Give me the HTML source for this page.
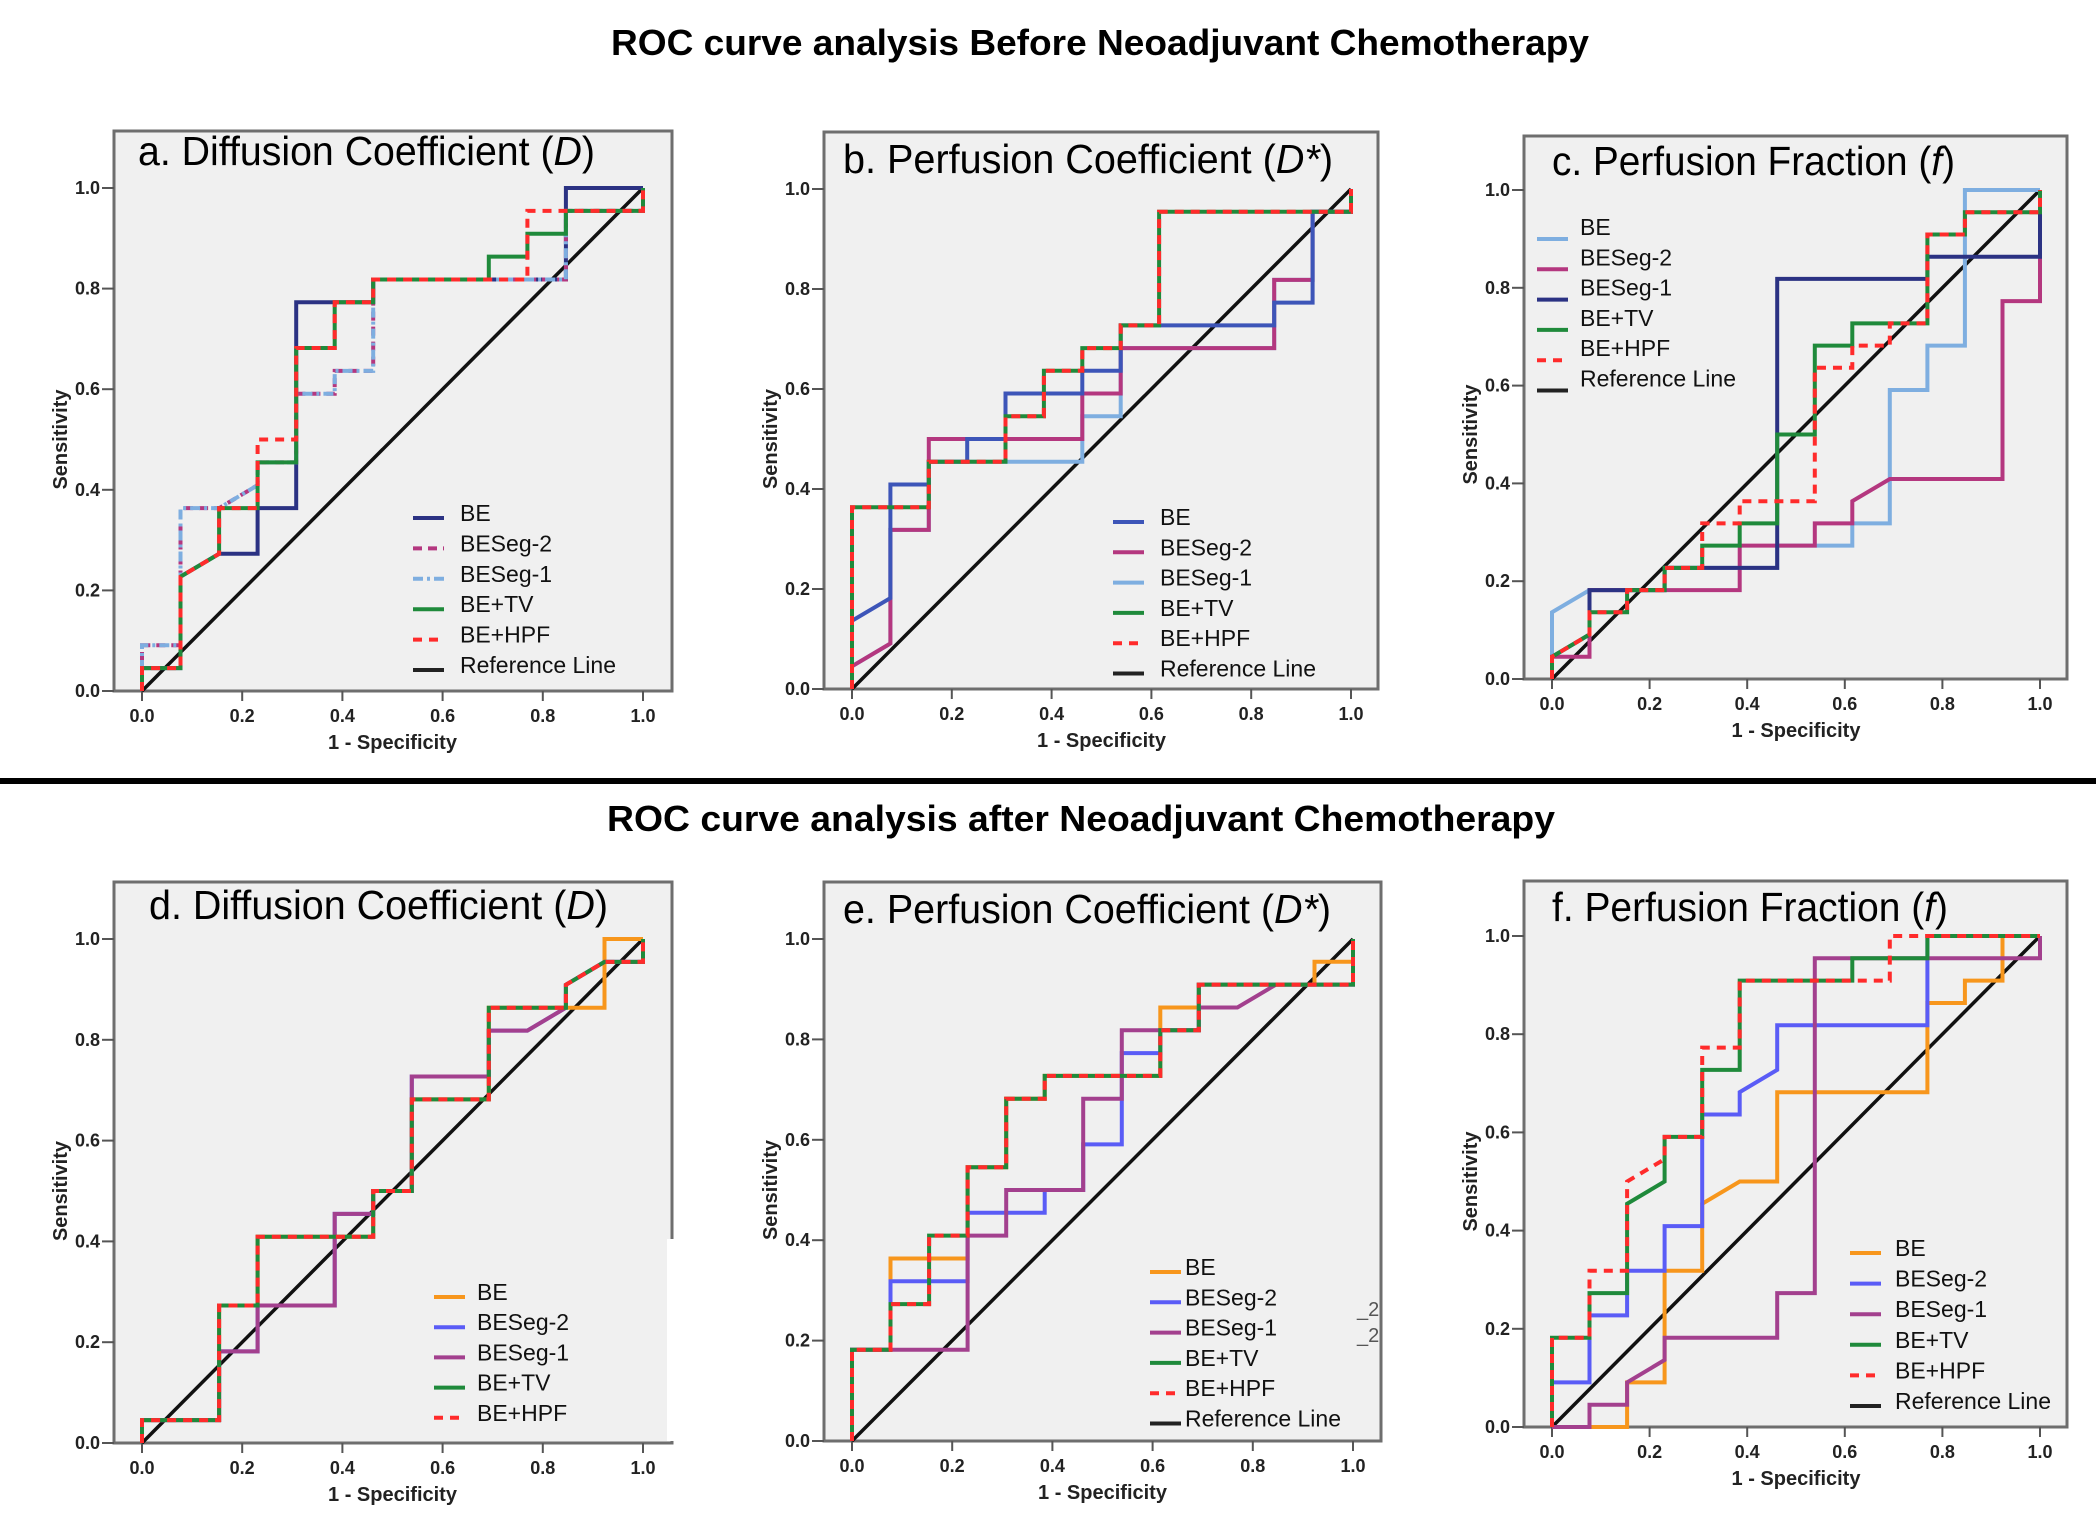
<!DOCTYPE html>
<html><head><meta charset="utf-8"><style>
html,body{margin:0;padding:0;background:#fff;}
svg{display:block;}
text{font-family:"Liberation Sans",sans-serif;}
</style></head><body>
<svg id="fig" width="2100" height="1536" viewBox="0 0 2100 1536" xmlns="http://www.w3.org/2000/svg">
<text x="611" y="55" font-size="36" font-weight="bold" textLength="978" lengthAdjust="spacingAndGlyphs">ROC curve analysis Before Neoadjuvant Chemotherapy</text>
<rect x="0" y="778" width="2096" height="6" fill="#000"/>
<text x="607" y="831" font-size="36" font-weight="bold" textLength="948" lengthAdjust="spacingAndGlyphs">ROC curve analysis after Neoadjuvant Chemotherapy</text>
</svg>
<script>
// counts: x in units of 1/13 (negatives), y in units of 1/22 (positives)
const N_NEG = 13, N_POS = 22;
const xTicks = [0, 0.2, 0.4, 0.6, 0.8, 1.0];
const yTicks = [0, 0.2, 0.4, 0.6, 0.8, 1.0];
const tickLabels = ["0.0","0.2","0.4","0.6","0.8","1.0"];

const a_BE    = [[0,0],[0,1],[1,1],[1,5],[2,6],[3,6],[3,8],[4,8],[4,17],[6,17],[6,18],[11,18],[11,22],[13,22]];
const a_Seg2  = [[0,0],[0,2],[1,2],[1,8],[2,8],[3,9],[3,10],[4,10],[4,13],[5,13],[5,14],[6,14],[6,18],[11,18],[11,21],[13,21],[13,22]];
const a_Seg1  = [[0,0],[0,2],[1,2],[1,8],[2,8],[3,9],[3,10],[4,10],[4,13],[5,13],[5,14],[6,14],[6,18],[11,18],[11,21],[13,21],[13,22]];
const a_TV    = [[0,0],[0,1],[1,1],[1,5],[2,6],[2,8],[3,8],[3,10],[4,10],[4,15],[5,15],[5,17],[6,17],[6,18],[9,18],[9,19],[10,19],[10,20],[11,20],[11,21],[13,21],[13,22]];
const a_HPF   = [[0,0],[0,1],[1,1],[1,5],[2,6],[2,8],[3,8],[3,11],[4,11],[4,15],[5,15],[5,17],[6,17],[6,18],[10,18],[10,21],[13,21],[13,22]];

const b_BE    = [[0,0],[0,3],[1,4],[1,9],[2,9],[2,10],[3,10],[3,11],[4,11],[4,13],[6,13],[6,14],[7,14],[7,16],[11,16],[11,17],[12,17],[12,21],[13,21],[13,22]];
const b_Seg2  = [[0,0],[0,1],[1,2],[1,7],[2,7],[2,11],[6,11],[6,13],[7,13],[7,15],[11,15],[11,18],[12,18],[12,21],[13,21],[13,22]];
const b_Seg1  = [[0,0],[0,1],[1,2],[1,7],[2,7],[2,10],[6,10],[6,12],[7,12],[7,15],[11,15],[11,18],[12,18],[12,21],[13,21],[13,22]];
const b_TV    = [[0,0],[0,8],[2,8],[2,10],[4,10],[4,12],[5,12],[5,14],[6,14],[6,15],[7,15],[7,16],[8,16],[8,21],[13,21],[13,22]];
const b_HPF   = [[0,0],[0,8],[2,8],[2,10],[4,10],[4,12],[5,12],[5,14],[6,14],[6,15],[7,15],[7,16],[8,16],[8,21],[13,21],[13,22]];

const c_BE    = [[0,0],[0,3],[1,4],[3,4],[3,5],[6,5],[6,6],[8,6],[8,7],[9,7],[9,13],[10,13],[10,15],[11,15],[11,22],[13,22]];
const c_Seg2  = [[0,0],[0,1],[1,1],[1,4],[5,4],[5,6],[7,6],[7,7],[8,7],[8,8],[9,9],[12,9],[12,17],[13,17],[13,22]];
const c_Seg1  = [[0,0],[0,1],[1,2],[1,4],[3,4],[3,5],[6,5],[6,18],[10,18],[10,19],[13,19],[13,22]];
const c_TV    = [[0,0],[0,1],[1,2],[1,3],[2,3],[2,4],[3,4],[3,5],[4,5],[4,6],[5,6],[5,7],[6,7],[6,11],[7,11],[7,15],[8,15],[8,16],[10,16],[10,20],[11,20],[11,21],[13,21],[13,22]];
const c_HPF   = [[0,0],[0,1],[1,2],[1,3],[2,3],[2,4],[3,4],[3,5],[4,5],[4,7],[5,7],[5,8],[7,8],[7,14],[8,14],[8,15],[9,15],[9,16],[10,16],[10,20],[11,20],[11,21],[13,21],[13,22]];

const d_BE    = [[0,0],[0,1],[2,1],[2,6],[3,6],[3,9],[6,9],[6,11],[7,11],[7,15],[9,15],[9,19],[10,19],[11,19],[12,19],[12,22],[13,22]];
const d_Seg2  = [[0,0],[0,1],[2,1],[2,4],[3,4],[3,6],[5,6],[5,10],[6,10],[6,11],[7,11],[7,16],[9,16],[9,18],[10,18],[11,19],[11,20],[12,21],[13,21],[13,22]];
const d_Seg1  = [[0,0],[0,1],[2,1],[2,4],[3,4],[3,6],[5,6],[5,10],[6,10],[6,11],[7,11],[7,16],[9,16],[9,18],[10,18],[11,19],[11,20],[12,21],[13,21],[13,22]];
const d_TV    = [[0,0],[0,1],[2,1],[2,6],[3,6],[3,9],[6,9],[6,11],[7,11],[7,15],[9,15],[9,19],[11,19],[11,20],[12,21],[13,21],[13,22]];
const d_HPF   = [[0,0],[0,1],[2,1],[2,6],[3,6],[3,9],[6,9],[6,11],[7,11],[7,15],[9,15],[9,19],[11,19],[11,20],[12,21],[13,21],[13,22]];

const e_BE    = [[0,0],[0,4],[1,4],[1,8],[3,8],[3,12],[4,12],[4,15],[5,15],[5,16],[8,16],[8,19],[9,19],[9,20],[12,20],[12,21],[13,21],[13,22]];
const e_Seg2  = [[0,0],[0,4],[1,4],[1,7],[3,7],[3,10],[5,10],[5,11],[6,11],[6,13],[7,13],[7,17],[8,17],[8,18],[9,18],[9,20],[13,20],[13,22]];
const e_Seg1  = [[0,0],[0,4],[3,4],[3,9],[4,9],[4,11],[6,11],[6,15],[7,15],[7,18],[9,18],[9,19],[10,19],[11,20],[13,20],[13,22]];
const e_TV    = [[0,0],[0,4],[1,4],[1,6],[2,6],[2,9],[3,9],[3,12],[4,12],[4,15],[5,15],[5,16],[8,16],[8,18],[9,18],[9,20],[13,20],[13,22]];
const e_HPF   = [[0,0],[0,4],[1,4],[1,6],[2,6],[2,9],[3,9],[3,12],[4,12],[4,15],[5,15],[5,16],[8,16],[8,18],[9,18],[9,20],[13,20],[13,22]];

const f_BE    = [[0,0],[2,0],[2,2],[3,2],[3,7],[4,7],[4,10],[5,11],[6,11],[6,15],[10,15],[10,19],[11,19],[11,20],[12,20],[12,22],[13,22]];
const f_Seg2  = [[0,0],[0,2],[1,2],[1,5],[2,5],[2,7],[3,7],[3,9],[4,9],[4,14],[5,14],[5,15],[6,16],[6,18],[10,18],[10,22],[13,22]];
const f_Seg1  = [[0,0],[1,0],[1,1],[2,1],[2,2],[3,3],[3,4],[6,4],[6,6],[7,6],[7,21],[13,21],[13,22]];
const f_TV    = [[0,0],[0,4],[1,4],[1,6],[2,6],[2,10],[3,11],[3,13],[4,13],[4,16],[5,16],[5,20],[8,20],[8,21],[10,21],[10,22],[13,22]];
const f_HPF   = [[0,0],[0,4],[1,4],[1,7],[2,7],[2,11],[3,12],[3,13],[4,13],[4,17],[5,17],[5,20],[9,20],[9,22],[13,22]];

const legendNames = ["BE","BESeg-2","BESeg-1","BE+TV","BE+HPF","Reference Line"];

const NS = "http://www.w3.org/2000/svg";
const svg = document.getElementById("fig");
function mk(tag, attrs, parent){
  const el = document.createElementNS(NS, tag);
  for (const k in attrs) el.setAttribute(k, attrs[k]);
  (parent||svg).appendChild(el);
  return el;
}

const navy="#2b3283", mag="#b4377f", lblue="#7eaee0", green="#1f8a3b", red="#ff2b2b", blue2="#3d55b8";
const orange="#f7961c", vblue="#5a5cf6", purp="#a3408e";

const panels = [
 {id:"a", title:"a. Diffusion Coefficient (", it:"D", box:[114,131,672,691], px:[142,643], py:[691,188],
  series:[[a_BE,navy,""],[a_Seg2,mag,"9 6"],[a_Seg1,lblue,"10 4 3 4"],[a_TV,green,""],[a_HPF,red,"9 7"]],
  colors:[navy,mag,lblue,green,red,"#222"], dashes:["","9 6","10 4 3 4","","9 7",""], leg:{lx:413,tx:460,y0:513,dy:30.4,n:6}, tx:138, tw:457, ty:165},
 {id:"b", title:"b. Perfusion Coefficient (", it:"D*", box:[824,132,1378,689], px:[852,1351], py:[689,189],
  series:[[b_Seg1,lblue,""],[b_Seg2,mag,""],[b_BE,blue2,""],[b_TV,green,""],[b_HPF,red,"9 7"]],
  colors:[blue2,mag,lblue,green,red,"#222"], dashes:["","","","","9 7",""], leg:{lx:1113,tx:1160,y0:517,dy:30.3,n:6}, tx:843, tw:490, ty:173},
 {id:"c", title:"c. Perfusion Fraction (", it:"f", box:[1524,136,2067,679], px:[1552,2040], py:[679,190],
  series:[[c_BE,lblue,""],[c_Seg2,mag,""],[c_Seg1,navy,""],[c_TV,green,""],[c_HPF,red,"9 7"]],
  colors:[lblue,mag,navy,green,red,"#222"], dashes:["","","","","9 7",""], leg:{lx:1537,tx:1580,y0:227,dy:30.3,n:6,lineOff:12}, tx:1552, tw:403, ty:175},
 {id:"d", title:"d. Diffusion Coefficient (", it:"D", box:[114,882,672,1443], px:[142,643], py:[1443,939],
  series:[[d_BE,orange,""],[d_Seg2,vblue,""],[d_Seg1,purp,""],[d_TV,green,""],[d_HPF,red,"9 7"]],
  colors:[orange,vblue,purp,green,red,"#222"], dashes:["","","","","9 7",""], leg:{lx:434,tx:477,y0:1292,dy:30.2,n:5}, tx:149, tw:459, ty:919},
 {id:"e", title:"e. Perfusion Coefficient (", it:"D*", box:[824,882,1381,1441], px:[852,1353], py:[1441,939],
  series:[[e_BE,orange,""],[e_Seg2,vblue,""],[e_Seg1,purp,""],[e_TV,green,""],[e_HPF,red,"9 7"]],
  colors:[orange,vblue,purp,green,red,"#222"], dashes:["","","","","9 7",""], leg:{lx:1150,tx:1185,y0:1267,dy:30.3,n:6}, tx:843, tw:488, ty:923},
 {id:"f", title:"f. Perfusion Fraction (", it:"f", box:[1524,881,2067,1427], px:[1552,2040], py:[1427,936],
  series:[[f_BE,orange,""],[f_Seg2,vblue,""],[f_Seg1,purp,""],[f_TV,green,""],[f_HPF,red,"9 7"]],
  colors:[orange,vblue,purp,green,red,"#222"], dashes:["","","","","9 7",""], leg:{lx:1850,tx:1895,y0:1248,dy:30.6,n:6}, tx:1552, tw:396, ty:921}
];

panels.forEach(p=>{
  const g = mk("g",{});
  
  
  const [L,T,R,B] = p.box;
  const sx = v => p.px[0] + v*(p.px[1]-p.px[0]);
  const sy = v => p.py[0] + v*(p.py[1]-p.py[0]);
  const bg = mk("rect",{x:L,y:T,width:R-L,height:B-T,fill:"#f0f0f0",stroke:"#6e6e6e","stroke-width":3},g);
  
  
  yTicks.forEach((v,i)=>{
    mk("line",{x1:L-12,x2:L,y1:sy(v),y2:sy(v),stroke:"#555","stroke-width":2},g);
    const t = mk("text",{x:L-14,y:sy(v)+6,"text-anchor":"end","font-size":18,"font-weight":"bold",fill:"#222"},g);
    t.textContent = tickLabels[i];
    
    
  });
  xTicks.forEach((v,i)=>{
    mk("line",{x1:sx(v),x2:sx(v),y1:B,y2:B+10,stroke:"#555","stroke-width":2},g);
    const t = mk("text",{x:sx(v),y:B+31,"text-anchor":"middle","font-size":18,"font-weight":"bold",fill:"#222"},g);
    t.textContent = tickLabels[i];
    
    
  });
  const xt = mk("text",{x:(p.px[0]+p.px[1])/2,y:B+58,"text-anchor":"middle","font-size":20,"font-weight":"bold",fill:"#222"},g);
  xt.textContent = "1 - Specificity";
  
  
  const yc = (p.py[0]+p.py[1])/2;
  const yt = mk("text",{x:L-54,y:yc+7,"text-anchor":"middle","font-size":20,"font-weight":"bold",fill:"#222",transform:`rotate(-90 ${L-54} ${yc})`},g);
  yt.textContent = "Sensitivity";
  
  
  const tt = mk("text",{x:p.tx,y:p.ty,"font-size":41,fill:"#000",textLength:p.tw,lengthAdjust:"spacingAndGlyphs"},g);
  
  
  tt.appendChild(document.createTextNode(p.title));
  const it = document.createElementNS(NS,"tspan"); it.setAttribute("font-style","italic"); it.textContent = p.it; tt.appendChild(it);
  tt.appendChild(document.createTextNode(")"));
  const ref = mk("line",{x1:sx(0),y1:sy(0),x2:sx(1),y2:sy(1),stroke:"#111","stroke-width":3.5},g);
  
  
  p.series.forEach((s,i)=>{
    const pts = s[0].map(q=>sx(q[0]/N_NEG).toFixed(1)+","+sy(q[1]/N_POS).toFixed(1)).join(" ");
    const pl = mk("polyline",{points:pts,fill:"none",stroke:s[1],"stroke-width":4,"stroke-dasharray":s[2]||"none"},g);
    
    
  });
  const lg = p.leg;
  for (let i=0;i<lg.n;i++){
    const y = lg.y0 + i*lg.dy;
    const ly = y + (lg.lineOff||5);
    const ll = mk("line",{x1:lg.lx,x2:lg.lx+31,y1:ly,y2:ly,stroke:p.colors[i],"stroke-width":4,"stroke-dasharray":p.dashes[i]||"none"},g);
    
    
    const lt = mk("text",{x:lg.tx,y:y+8,"font-size":23,fill:"#111"},g);
    lt.textContent = legendNames[i];
    
    
  }
});
const wp = mk("rect",{x:667,y:1239,width:14,height:202,fill:"#fff"});


["_2","_2"].forEach((s,i)=>{
  const t = mk("text",{x:1357,y:1316+i*26,"font-size":20,fill:"#555"});
  t.textContent = s;
  
  
});
</script>
</body></html>
